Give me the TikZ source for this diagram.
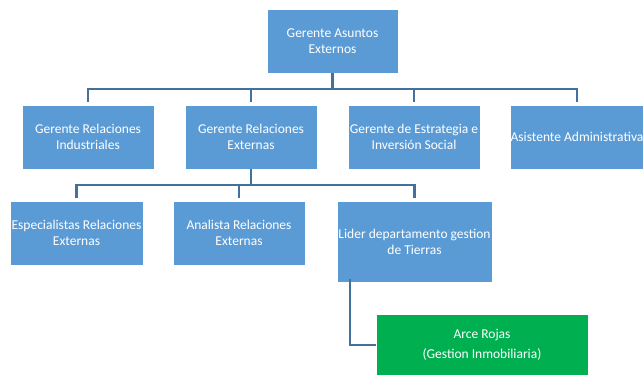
\documentclass[tikz,border=0pt]{standalone}
\usepackage{fontspec}
\setmainfont{Carlito}
\definecolor{boxblue}{HTML}{5B9BD5}
\definecolor{linkblue}{HTML}{41719C}
\definecolor{boxgreen}{HTML}{00B050}
\begin{document}
\begin{tikzpicture}[x=1pt,y=-1pt,
  orgbox/.style={draw=white,line width=0.8pt,fill=boxblue,text=white,
    align=center,inner sep=0pt,font=\fontsize{13.5}{16}\selectfont},
  greenbox/.style={orgbox,fill=boxgreen,font=\fontsize{13.5}{20}\selectfont},
  link/.style={draw=linkblue,line width=2.2pt},
  drop/.style={link,shorten >=2.5pt}]
\useasboundingbox (0,0) rectangle (643,375);
\begin{scope}
\clip (0,0) rectangle (643,375);
% top level
\node[orgbox,minimum width=131pt,minimum height=64pt] (top) at (332.5,41) {Gerente Asuntos\\Externos};
% second level
\node[orgbox,minimum width=132pt,minimum height=64pt] (ind) at (88,137) {Gerente Relaciones\\Industriales};
\node[orgbox,minimum width=132pt,minimum height=64pt] (ext) at (251,137) {Gerente Relaciones\\Externas};
\node[orgbox,minimum width=132pt,minimum height=64pt] (est) at (414,137) {Gerente de Estrategia e\\Inversión Social};
\node[orgbox,minimum width=132pt,minimum height=64pt] (asi) at (577,137) {Asistente Administrativa};
% third level
\node[orgbox,minimum width=133pt,minimum height=64pt] (esp) at (76.5,233) {Especialistas Relaciones\\Externas};
\node[orgbox,minimum width=132pt,minimum height=64pt] (ana) at (239,233) {Analista Relaciones\\Externas};
\node[orgbox,minimum width=155pt,minimum height=81pt] (lid) at (414.5,241.5) {Lider departamento gestion\\de Tierras};
% fourth level
\node[greenbox,minimum width=212pt,minimum height=62pt] (arc) at (482,345) {Arce Rojas\\(Gestion Inmobiliaria)};
% connector junctions
\coordinate (bus1) at (332.5,89);
\coordinate (bus2) at (251,185);
\coordinate (elbow) at (350,345);
\draw[link] (top.south) -- (bus1);
\draw[drop] (bus1) -| (ind.north);
\draw[drop] (bus1) -| (ext.north);
\draw[drop] (bus1) -| (est.north);
\draw[drop] (bus1) -| (asi.north);
\draw[link] (ext.south) -- (bus2);
\draw[drop] (bus2) -| (esp.north);
\draw[drop] (bus2) -| (ana.north);
\draw[drop] (bus2) -| (lid.north);
\draw[link] ([yshift=3pt]lid.south -| elbow) -- (elbow) -- (arc.west);
\end{scope}
\end{tikzpicture}
\end{document}
